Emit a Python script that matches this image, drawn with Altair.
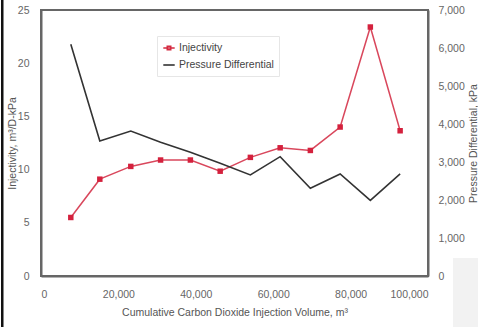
import altair as alt
import pandas as pd

# Cumulative CO2 injection volume (m^3) at each measurement
volume = [7700, 15200, 23200, 30900, 38600, 46300, 54100, 61800, 69600, 77300, 85100, 92800]
# Injectivity, m^3/D-kPa
injectivity = [5.5, 9.1, 10.3, 10.9, 10.9, 9.85, 11.15, 12.05, 11.8, 14.0, 23.4, 13.65]
# Pressure differential, kPa
pressure = [6100, 3550, 3815, 3520, 3255, 2965, 2660, 3140, 2310, 2685, 1990, 2685]

series = ["Injectivity", "Pressure Differential"]
series_colors = ["#d42a40", "#333333"]
# legend glyphs: line with a square marker, and a plain line
series_glyphs = ["M-1,0H1M-0.3,-0.3H0.3V0.3H-0.3Z", "M-1,0H1"]

df = pd.DataFrame({"volume": volume, "inj": injectivity, "press": pressure})
legend_df = pd.DataFrame({"series": series, "volume": [volume[0]] * 2, "inj": [injectivity[0]] * 2})

AX = "#666666"
LBL = "#666666"
FONT = "Liberation Sans"
THOUSANDS = "format(datum.value, ',')"
PLOT_W, PLOT_H = 387, 266

x_enc = alt.X(
    "volume:Q",
    scale=alt.Scale(domain=[0, 100000], nice=False),
    axis=alt.Axis(
        values=[0, 20000, 40000, 60000, 80000, 100000],
        labelExpr=THOUSANDS,
        title="Cumulative Carbon Dioxide Injection Volume, m³",
        titlePadding=8,
        labelPadding=13,
    ),
)

inj_line = alt.Chart(df).mark_line(color="#d9475c", strokeWidth=1.5).encode(
    x=x_enc,
    y=alt.Y(
        "inj:Q",
        scale=alt.Scale(domain=[0, 25], nice=False),
        axis=alt.Axis(
            values=[0, 5, 10, 15, 20, 25],
            title="Injectivity, m³/D-kPa",
            orient="left",
            labelPadding=12,
            titleX=-29,
            titleY=PLOT_H / 2,
            titleAngle=270,
            titleAlign="center",
            titleBaseline="middle",
        ),
    ),
)
inj_pts = alt.Chart(df).mark_square(color="#d4213d", size=30, opacity=1, filled=True).encode(
    x="volume:Q",
    y="inj:Q",
)
inj_layer = alt.layer(inj_line, inj_pts)

press_line = alt.Chart(df).mark_line(color="#333333", strokeWidth=1.6).encode(
    x="volume:Q",
    y=alt.Y(
        "press:Q",
        scale=alt.Scale(domain=[0, 7000], nice=False),
        axis=alt.Axis(
            values=[0, 1000, 2000, 3000, 4000, 5000, 6000, 7000],
            labelExpr=THOUSANDS,
            title="Pressure Differential, kPa",
            orient="right",
            labelPadding=10,
            titleX=45,
            titleY=PLOT_H / 2,
            titleAngle=270,
            titleAlign="center",
            titleBaseline="middle",
        ),
    ),
)

legend_layer = alt.Chart(legend_df).mark_point(opacity=0, filled=False).encode(
    x="volume:Q",
    y=alt.Y("inj:Q", axis=None),
    color=alt.Color(
        "series:N",
        scale=alt.Scale(domain=series, range=series_colors),
        legend=alt.Legend(
            title=None,
            orient="none",
            legendX=116,
            legendY=26,
            labelFontSize=10.5,
            labelColor="#444444",
            labelFont=FONT,
            symbolSize=130,
            symbolStrokeWidth=1.6,
            symbolOpacity=1,
            rowPadding=4,
            padding=5,
            strokeColor="#e6e6e6",
            fillColor="#ffffff",
            labelOffset=3,
        ),
    ),
    shape=alt.Shape(
        "series:N",
        scale=alt.Scale(domain=series, range=series_glyphs),
        legend=None,
    ),
)

one_row = pd.DataFrame({"k": [0]})

# dark bar along the left edge of the figure
edge = alt.Chart(one_row).mark_rect(color="#111111").encode(
    x=alt.value(-40), x2=alt.value(-37.5), y=alt.value(-10), y2=alt.value(PLOT_H + 51)
)

# faint grey panel in the lower-right corner of the figure
corner = alt.Chart(one_row).mark_rect(color="#f2f2f2").encode(
    x=alt.value(412), x2=alt.value(PLOT_W + 50), y=alt.value(248), y2=alt.value(PLOT_H + 51)
)

chart = (
    alt.layer(corner, inj_layer, press_line, legend_layer, edge)
    .resolve_scale(y="independent", color="independent", shape="independent")
    .properties(
        width=PLOT_W,
        height=PLOT_H,
        padding={"left": 41, "top": 10, "right": 50, "bottom": 51},
        autosize=alt.AutoSizeParams(type="none"),
        background="white",
    )
    .configure_view(stroke=AX, strokeWidth=2)
    .configure_axis(
        domainColor=AX,
        domainWidth=2,
        ticks=False,
        grid=False,
        labelColor=LBL,
        labelFont=FONT,
        labelFontSize=10.5,
        titleColor="#555555",
        titleFont=FONT,
        titleFontSize=10.5,
        titleFontWeight="normal",
    )
)

chart.save("out.html", embed_options={"renderer": "svg", "actions": False})
